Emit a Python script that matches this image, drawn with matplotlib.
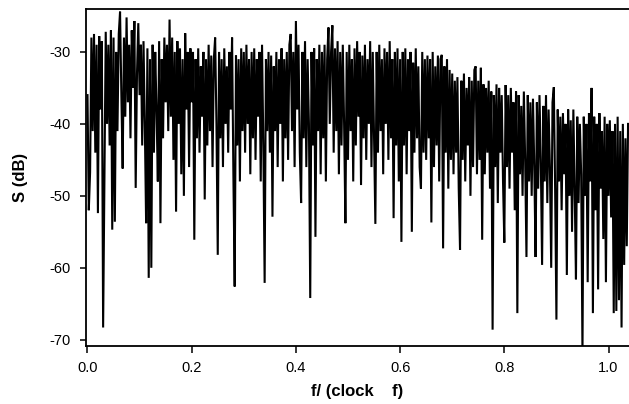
import numpy as np
import matplotlib
matplotlib.use("Agg")
from matplotlib import pyplot as plt

# spectrum S(dB), 20 values per 0.05 of f
f_start = 0.0
f_step = 0.0025
s_db = [
    -36, -52, -46.7, -28, -41, -27.5, -44, -29, -52.4, -27.8, -38, -28.5, -68.3, -47.5, -27.2, -40, -29, -43, -27, -54.7,
    -28, -53.6, -30, -41, -27.5, -24.4, -36, -46.2, -28, -39, -25.2, -37, -29, -42, -27, -35, -25.7, -48.9, -33, -26,
    -36, -29, -43, -28.5, -40, -53.8, -29.5, -61.4, -31, -60, -29, -44, -30, -38, -48, -28.5, -53.8, -31, -42, -28,
    -37, -29, -41, -25.5, -39, -28, -45, -30, -52.2, -28.5, -40, -29.5, -47, -31, -50, -27.4, -38, -30, -46, -29.5,
    -37, -30, -56.1, -31, -42, -29.5, -44, -32, -39, -30, -50.5, -31, -43, -29, -41, -30.5, -46, -31, -28, -40,
    -58.2, -30, -42, -31, -46, -29.5, -40, -32, -44, -30, -38, -28, -47, -62.6, -30.5, -43, -31, -48, -29.5, -41,
    -30, -44, -29, -40, -31, -47, -30, -42, -29.5, -45, -31, -39, -30, -48, -29, -43, -62.1, -31, -41, -30,
    -44, -30.5, -52.9, -32, -41, -30, -46, -31, -40, -29.5, -48, -31, -42, -30, -45, -29, -27.5, -41, -30, -46,
    -25.7, -38, -29, -44, -51, -30, -42, -28.5, -46, -31, -40, -64.2, -30, -43, -29.5, -55.7, -31, -41, -29, -47,
    -30, -42, -29, -48, -31, -26.6, -40, -30, -26.3, -44, -29.5, -41, -28.5, -47, -30, -43, -29, -40, -53.8, -30,
    -45, -29, -41, -31, -48, -29.5, -43, -28.5, -39, -30, -48.5, -30.5, -42, -29, -45, -31, -40, -28.5, -46, -30,
    -42, -53.9, -30, -44, -29, -41, -31, -47, -29.5, -40, -30, -45, -28.5, -42, -31, -53.1, -30, -43, -29.5, -48,
    -31, -56.4, -30, -43, -29.5, -47, -31, -41, -30, -55, -31.5, -44, -29.5, -42, -32, -46, -49, -30, -44, -31,
    -45, -30.5, -42, -31, -53.7, -30, -46, -32, -43, -30.5, -48, -31, -30.4, -57.3, -32, -44, -31, -49, -32.5, -45,
    -33, -47, -34, -44, -33.5, -49, -57.5, -34, -45, -33, -48, -35, -43, -33.5, -50, -34, -46, -32.5, -32, -47,
    -34, -45, -32.2, -56.1, -34.5, -47, -35, -44, -34, -49, -35.5, -68.6, -36, -46, -34.5, -51, -35, -44, -36, -48,
    -56.5, -34.6, -46, -36, -49, -35, -44, -37, -52, -35.5, -66.3, -36, -47, -37.5, -50, -35.5, -45, -58.5, -36, -48,
    -37, -50, -36.5, -46, -58.5, -37, -49, -36, -45, -59.6, -37.5, -48, -36, -51, -38, -46, -60, -37, -34.9, -49,
    -67.2, -38, -48, -39, -52, -38.5, -47, -40, -61, -38, -50, -39.5, -55, -38, -49, -61.6, -39, -51, -40, -47,
    -72, -39, -50, -40, -62, -38.5, -48, -35, -66.3, -39, -52, -40, -63, -38.5, -49, -41, -56, -39, -62, -40,
    -50, -39.5, -53, -41, -66.3, -40, -66, -39, -64.5, -41, -68.3, -40, -59.6, -42, -57, -40,
]
x_ticks = [0.0, 0.2, 0.4, 0.6, 0.8, 1.0]
y_ticks = [-70, -60, -50, -40, -30]

freq = f_start + f_step * np.arange(len(s_db))

plt.rcParams['font.family'] = ['Liberation Sans', 'DejaVu Sans']

fig = plt.figure(figsize=(6.29, 4.04), dpi=100)
ax = fig.add_axes([0.1362, 0.1448, 0.8638, 0.8317])

ax.plot(freq, s_db, color='black', linewidth=1.5, solid_joinstyle='miter')

ax.set_xlim(-0.0035, 1.0393)
ax.set_ylim(-70.8, -24.1)
ax.set_xticks(x_ticks)
ax.set_xticklabels(["%.1f" % t for t in x_ticks])
ax.set_yticks(y_ticks)
ax.set_yticklabels(["%d" % t for t in y_ticks])

ax.spines['right'].set_visible(False)
for side in ['left', 'bottom', 'top']:
    ax.spines[side].set_linewidth(1.3)
ax.tick_params(axis='x', direction='out', length=5, width=1.1, labelsize=10.5, pad=6)
ax.tick_params(axis='y', direction='out', length=4.5, width=1.1, labelsize=10.5, pad=6)

ax.set_xlabel("f/ (clock    f)", fontsize=12, fontweight='bold')
ax.set_ylabel("S (dB)", fontsize=12, fontweight='bold')
ax.xaxis.set_label_coords(0.5, -0.115)
ax.yaxis.set_label_coords(-0.106, 0.5)

fig.savefig("out.png", dpi=100)
